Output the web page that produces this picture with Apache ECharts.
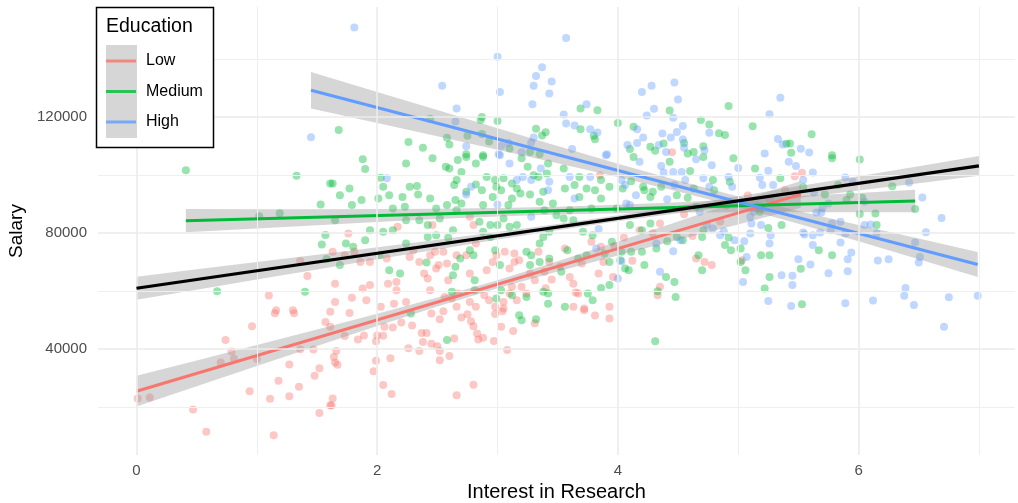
<!DOCTYPE html>
<html>
<head>
<meta charset="utf-8">
<title>Salary vs Interest in Research</title>
<script src="https://cdn.jsdelivr.net/npm/echarts@6/dist/echarts.min.js"></script>
<style>
  html, body { margin: 0; padding: 0; background: #ffffff; }
  #chart { width: 1018px; height: 503px; }
</style>
</head>
<body>
<div id="chart"></div>
<script>
// ---- observations: [interest in research, salary] ----
var lowPoints = [
  [0.01,23000],[0.11,23300],[0.47,19200],[0.58,11500],[0.94,25500],[0.70,35400],[0.74,43200],[0.79,39200],
  [0.81,36700],[0.96,47900],[1.00,36600],[1.15,52400],[1.31,52400],[1.11,22900],[1.14,10300],[1.18,29100],
  [1.27,34700],[1.27,23800],[1.35,27000],[1.36,40000],[1.47,39900],[1.52,33400],[1.48,30800],[1.52,18000],
  [1.61,20700],[1.57,49400],[1.61,47700],[1.61,52900],[1.66,39400],[1.64,37300],[1.65,35400],[1.67,34600],
  [1.63,23000],[1.62,20600],[1.77,52500],[1.73,44500],[1.84,43300],[1.89,44700],[1.99,42700],[2.00,44700],
  [2.05,44600],[2.06,47700],[2.13,47500],[2.20,49200],[2.29,48200],[1.99,36000],[1.97,32400],[2.11,36900],
  [2.05,27600],[2.12,24500],[2.26,40300],[2.35,39400],[2.37,45600],[2.41,45600],[2.38,42500],[2.45,41900],
  [2.50,41000],[2.52,39400],[2.52,36200],[2.60,37600],[2.64,43700],[2.45,52300],[2.52,50300],[2.55,53100],
  [2.66,24100],[2.80,27700],[2.70,50900],[2.75,52000],[2.78,49600],[2.80,47900],[2.83,45400],[2.84,43300],
  [2.88,43900],[2.97,42800],[2.98,52100],[3.04,53100],[3.03,47700],[3.13,46300],[3.08,39700],[3.31,48900],
  [3.72,53400],[3.81,51600],[3.93,50600],
  [1.36,70400],[1.42,65200],[1.10,58500],[1.16,53400],[1.30,53400],
  [2.77,85700],[2.80,82800],[2.46,82800],[2.17,82200],[1.76,79900],[1.81,73600],[1.73,72400],[1.63,73600],
  [1.86,70100],[1.94,70100],[2.08,71300],[2.30,74100],[2.27,71800],[2.35,70100],[2.44,72400],[2.48,73600],
  [2.55,73600],[2.51,69000],[2.58,69500],[2.66,72400],[2.74,72400],[2.82,76400],[2.99,72400],[2.96,70100],
  [3.06,73600],[3.14,73000],[3.14,70100],[3.10,67800],[3.18,70700],[3.34,73600],[3.39,66700],[2.39,66100],
  [2.42,64400],[2.49,67800],[2.59,63800],[2.77,66100],[2.91,67200],[2.16,63200],[2.09,62600],[2.16,60300],
  [1.88,60900],[1.65,62600],[1.79,57700],[1.91,56900],[2.03,54600],[2.14,55700],[2.24,56300],[2.44,60300],
  [2.56,58000],[2.67,59200],[2.77,56300],[2.89,58600],[2.93,56900],[3.05,56300],[3.12,61500],[3.10,59200],
  [3.20,61500],[3.24,59200],[3.16,56900],[3.05,54000],[2.98,54600],[2.82,54600],[2.66,54600],[2.62,57500],
  [3.31,63800],[3.27,66100],[3.43,70100],[1.94,62100],[1.65,56300],
  [3.85,100000],[4.35,83300],[3.97,75600],[3.86,75300],[3.56,74700],[3.88,70100],[4.35,61500],[4.33,58600],
  [4.65,71300],[4.72,70100],[4.78,69000],[3.96,64900],[3.84,66100],[3.60,64900],[3.63,62600],[3.65,59500],
  [3.67,59200],[3.72,54000],[3.93,54600],[3.63,54600],[5.03,70700],
  [5.53,100800],[5.47,99600],[5.18,88500],[5.26,91400],[5.39,94800],[4.18,81000],[4.29,80000],[4.45,107900],
  [3.45,64000],[3.52,68500],[3.40,61000],[4.05,78500],[4.55,86500],[4.90,89500],[4.62,79000],[4.12,70500],
  [4.85,84000],[5.08,93000],[3.70,69500],[3.78,77000]
];

var mediumPoints = [
  [2.44,119500],[2.87,120100],[2.86,119000],[3.00,118700],[1.68,115600],[3.32,116000],[3.40,114800],[3.37,113700],
  [2.75,113600],[2.87,114200],[2.58,112900],[2.60,110600],[2.26,111400],[2.38,109500],[2.93,111600],[3.10,109200],
  [3.27,108000],[3.35,107200],[2.74,107200],[2.88,106900],
  [4.92,123900],[4.43,122300],[3.69,123000],[3.83,122400],[3.69,115800],[3.80,113600],[3.81,112400],[4.00,118000],
  [4.13,116700],[4.69,119000],[4.76,117500],[4.84,114500],[4.89,113900],[5.12,116900],[5.40,110800],[4.10,109000],
  [4.27,109800],[4.38,110900],[4.55,111100],[4.71,110000],[4.63,108000],[4.58,107500],[4.31,108400],
  [5.61,114100],[5.44,107700],[5.43,110900],[5.78,106900],
  [0.41,101700],[1.33,99800],[1.53,89900],[1.02,85800],[1.19,86900],[1.57,79400],[1.54,76100],[1.58,71100],
  [0.67,60000],[1.40,59800],[1.61,97100],
  [2.28,52300],[2.58,43200],[3.18,51700],[3.20,50000],[3.32,50300],[4.31,42700],
  [5.53,55500],[5.52,67700],[6.47,88300],[6.28,96200],[6.01,105400],[5.78,105800],[5.54,95800],[5.72,93300],
  [5.83,96600],[5.93,93300],[5.90,91400],[6.03,92200],[6.01,86600],[6.14,86800],[6.15,82800],[5.67,74100],
  [5.78,72400],
  [4.13,106300],[4.43,104600],[4.71,106300],[4.96,105800],[5.14,102300],[5.35,98900],[4.60,101400],[4.79,98300],
  [4.93,97700],[4.80,94800],[4.63,95400],[4.36,96000],[4.29,94300],[4.27,92500],[4.49,93100],[4.58,92200],
  [4.65,89100],[4.71,81000],[4.70,78700],[4.92,78500],[4.89,75900],[4.94,74100],[5.02,74700],[5.02,70100],
  [5.25,81800],[5.36,82800],[5.19,72400],[5.26,72400],[5.26,64900],[5.22,60900],[5.18,87400],[5.15,89100],
  [3.55,102300],[3.68,99400],[3.64,96600],[3.56,95400],[3.86,98300],[3.93,96000],[3.81,94800],[3.74,95400],
  [4.04,95400],[4.11,97900],[4.21,96000],[4.22,94800],[3.68,92500],[3.86,92000],[3.99,88500],[3.78,88500],
  [3.60,87900],[3.55,85100],[3.63,84500],[3.71,80500],[3.79,79300],[4.10,82800],[4.20,81000],[4.27,83300],
  [4.49,78700],[4.41,77200],[4.32,74700],[4.20,73600],[4.11,73600],[4.03,73600],[3.95,77000],[3.89,73000],
  [3.74,72400],[3.67,71300],[3.58,74100],[3.93,70100],[4.02,70700],[4.06,67800],[4.09,67200],[4.22,69000],
  [4.40,64900],[4.54,77600],[4.47,63200],[4.33,60000],[4.48,58000],[4.70,67200],[4.67,72400],[3.53,66700],
  [3.86,61100],[3.93,62100],[3.75,59200],[3.79,56900],[3.56,54600],[5.06,67200],
  [1.88,105500],[1.90,102100],[2.24,104000],[2.46,105800],[2.67,105200],[2.74,106300],[2.82,104000],[2.88,106300],
  [3.20,105800],[3.25,102900],[3.42,104000],[1.63,97100],[2.03,99100],[2.05,96000],[1.69,93100],[1.87,91400],
  [2.01,92000],[2.10,93100],[2.21,92500],[2.27,96000],[2.33,96300],[2.34,93300],[2.23,89100],[2.13,88500],
  [1.79,89700],[2.44,92000],[2.49,88500],[2.58,89700],[2.57,102900],[2.60,102300],[2.70,101100],[2.66,98300],
  [2.64,96600],[2.82,96800],[2.87,94800],[2.74,94300],[2.65,91400],[2.70,90200],[2.66,87900],[2.91,99400],
  [2.98,98300],[3.05,98900],[2.99,96000],[3.03,94800],[2.96,92500],[2.88,89700],[3.09,89700],[3.12,92000],
  [3.16,95400],[3.12,97100],[3.30,100000],[3.34,99400],[3.41,100600],[3.19,93700],[3.27,93300],[3.38,94300],
  [3.35,90800],[3.39,87900],[3.46,90200],[3.49,86200],[3.05,85100],[3.00,82800],[3.10,82200],[3.16,82800],
  [2.94,82800],[2.85,83900],[2.88,80500],[2.94,78700],[2.63,81000],[2.59,78400],[2.52,85100],[2.42,82800],
  [2.42,78700],[2.49,79300],[2.35,84500],[2.24,84500],[2.13,81000],[2.05,80500],[1.94,81000],[1.90,77600],
  [1.74,76400],[1.80,75300],[1.65,84500],[1.69,69000],[2.02,72400],[2.10,67200],[2.24,76400],[2.41,69900],
  [2.65,68400],[2.69,71300],[2.77,74100],[2.80,72400],[2.98,74100],[3.02,69000],[3.24,73600],[3.28,72400],
  [3.35,76400],[3.38,78700],[3.43,80500],[3.27,69000],[3.35,70100],[3.43,71300],[2.19,66100],[2.63,65500],
  [2.81,63800],[2.62,59800],[2.99,57500],[3.03,60300],[3.12,58600],[2.81,60300],[3.38,59800],[3.42,59200],
  [3.24,58000],[3.42,55700],[1.77,95400]
];

var highPoints = [
  [1.81,150900],[3.00,140800],[3.37,137200],[3.32,134200],[3.45,132300],[3.30,130800],[3.43,128200],[3.02,128700],
  [2.54,130800],[3.29,124500],[2.66,123000],[2.65,118500],[3.30,113000],[2.74,110000],[3.03,110100],[3.09,111100],
  [3.28,111300],[3.20,107900],[3.01,107200],[1.45,113100],
  [3.57,147300],[4.47,132000],[4.28,130800],[4.20,128700],[4.50,126100],[5.35,126700],[5.26,121000],[4.30,122900],
  [4.24,120600],[4.46,119800],[3.74,124500],[3.55,120900],[3.57,117800],[3.64,117100],[3.77,115800],[3.83,114700],
  [4.16,115800],[4.54,117000],[4.49,114900],[4.76,114600],[5.33,112500],[5.37,110600],[4.37,114400],[4.44,113000],
  [4.21,113000],[4.16,111100],[4.08,110400],[4.34,110400],[4.54,112300],[4.55,109500],[4.72,108600],[4.40,108000],
  [3.62,109000],[3.91,107200],[5.22,107500],[5.52,109100],[5.59,107800],[6.71,47700],
  [6.99,58400],[6.75,57900],[6.46,55200],[6.38,58400],[6.39,61100],[6.12,56800],[5.89,55800],[5.44,54900],
  [5.45,62100],[5.45,65300],[5.60,69200],[5.75,66200],[5.91,66900],[5.91,71000],[5.94,73300],[6.16,70600],
  [6.25,71000],[6.50,69900],[6.51,71800],[6.47,76800],[6.56,80300],[6.69,85200],[6.53,92300],[6.42,97500],
  [5.62,100900],[5.48,103200],[5.54,98300],[5.63,94000],[5.89,99200],[5.95,97700],[6.05,90800],[5.75,90200],
  [5.70,88700],[5.65,87100],[5.69,87100],[6.05,82800],[6.10,83000],[6.15,79900],[5.78,83400],[5.85,83900],
  [5.77,81000],[5.89,79900],[5.68,80200],[5.54,80200],[5.55,79500],[5.62,79300],[5.85,76800],[5.62,75900],
  [5.50,71000],
  [3.90,106900],[4.18,104600],[4.36,103200],[4.65,105500],[4.78,103400],[5.00,102500],[5.25,101500],[5.18,99100],
  [5.20,96600],[5.29,96600],[5.42,104600],[4.38,100900],[4.46,101100],[4.53,101100],[4.56,98300],[4.71,98900],
  [4.92,99400],[4.95,96000],[4.76,96000],[4.47,96600],[4.41,91700],[4.68,87400],[4.74,82800],[4.79,81600],
  [4.85,79300],[4.88,80700],[4.97,77600],[5.05,77200],[5.07,71800],[5.10,79900],[5.11,83300],[5.19,82800],
  [5.26,76400],[5.27,79300],[5.36,65500],[5.25,56600],[5.04,63200],[5.10,85700],[5.13,87400],[3.60,99400],
  [3.77,99400],[4.03,98300],[4.06,96600],[4.15,93100],[3.64,92000],[4.07,90200],[4.10,89700],[3.84,81400],
  [4.52,77600],[4.32,76400],[3.82,74700],[4.03,70300],[4.35,66700],[4.46,73800],[4.00,64400],
  [3.02,106900],[3.10,104000],[3.36,102300],[2.08,98900],[2.78,96000],[2.74,93300],[3.00,89900],[3.16,98300],
  [3.21,99400],[3.28,98300],[3.43,97700],[3.42,94800],[3.28,85700]
];

// ---- fitted lines (end points) ----
var lowFit     = [[0, 25500], [5.52, 93400]];
var mediumFit  = [[0.41, 84300], [6.47, 91100]];
var highFit    = [[1.45, 129300], [6.99, 69200]];
var overallFit = [[0, 61000], [7.0, 103200]];

// ---- confidence bands: [x, lower, upper] ----
var lowBand = [
  [0,20200,30800],[0.5,27200,36100],[1,34200,41400],[1.5,41100,46800],[2,48000,52200],[2.5,54700,57800],
  [3,61000,63800],[3.5,66800,70300],[4,72300,77100],[4.5,77700,84000],[5,83000,91000],[5.52,88800,98000]
];
var mediumBand = [
  [0.41,80300,88300],[1,81640,88280],[1.5,82750,88290],[2,83830,88330],[2.5,84860,88440],[3,85770,88650],
  [3.5,86470,89070],[4,86890,89770],[4.5,87100,90680],[5,87200,91700],[5.5,87240,92780],[6,87250,93890],
  [6.47,87240,94960]
];
var highBand = [
  [1.45,123000,135600],[2,117980,128700],[2.5,113410,122450],[3,108800,116220],[3.5,104140,110040],
  [4,99360,103980],[4.5,94380,98140],[5,89000,92680],[5.5,83220,87620],[6,77190,82810],[6.5,71040,78140],
  [6.99,64860,73540]
];
var overallBand = [
  [0,57000,65000],[0.5,60500,67520],[1,64010,70050],[1.5,67490,72590],[2,70970,75150],[2.5,74410,77730],
  [3,77800,80380],[3.5,81050,83150],[4,84100,86140],[4.5,86900,89360],[5,89570,92730],[5.5,92160,96160],
  [6,94720,99640],[6.5,97260,103120],[7,99800,106600]
];

// ---- axes ----
var xTickLabels = [0, 2, 4, 6];
var yTickLabels = [40000, 80000, 120000];
var xMajorGrid = [0, 2, 4, 6];
var xMinorGrid = [1, 3, 5, 7];
var yMajorGrid = [40000, 80000, 120000];
var yMinorGrid = [20000, 60000, 100000, 140000];

var groups = ['Low', 'Medium', 'High'];
var groupColors = ['#F8766D', '#00BA38', '#619CFF'];
var pointColors = ['rgba(248,118,109,0.5)', 'rgba(0,186,56,0.5)', 'rgba(97,156,255,0.5)'];
var FONT = '"Liberation Sans", Arial, Helvetica, sans-serif';

function gridLines(values, dim, width, color) {
  return values.map(function (v) {
    var d = {}; d[dim] = v;
    d.lineStyle = { color: color, width: width, type: 'solid' };
    return d;
  });
}

function bandSeries(band) {
  return {
    type: 'custom',
    silent: true,
    z: 3,
    data: [[band[0][0], band[0][1]]],
    renderItem: function (params, api) {
      var pts = [];
      band.forEach(function (p) { pts.push(api.coord([p[0], p[2]])); });
      band.slice().reverse().forEach(function (p) { pts.push(api.coord([p[0], p[1]])); });
      return {
        type: 'polygon',
        shape: { points: pts },
        style: { fill: 'rgba(153,153,153,0.4)', stroke: null }
      };
    }
  };
}

function fitSeries(name, data, color, width, z) {
  return {
    name: name,
    type: 'line',
    data: data,
    symbol: 'none',
    silent: true,
    z: z,
    lineStyle: { color: color, width: width, cap: 'butt' },
    itemStyle: { color: color }
  };
}

var series = [];

// panel grid lines
series.push({
  type: 'line',
  data: [],
  silent: true,
  z: 0,
  markLine: {
    silent: true,
    symbol: 'none',
    label: { show: false },
    emphasis: { disabled: true },
    animation: false,
    data: []
      .concat(gridLines(xMinorGrid, 'xAxis', 1, '#EFEFEF'))
      .concat(gridLines(yMinorGrid, 'yAxis', 1, '#EFEFEF'))
      .concat(gridLines(xMajorGrid, 'xAxis', 1.6, '#EBEBEB'))
      .concat(gridLines(yMajorGrid, 'yAxis', 1.6, '#EBEBEB'))
  }
});

// scatter points
[lowPoints, mediumPoints, highPoints].forEach(function (pts, i) {
  series.push({
    name: groups[i],
    type: 'scatter',
    data: pts,
    symbol: 'circle',
    symbolSize: 8,
    silent: true,
    z: 2,
    itemStyle: { color: pointColors[i], borderWidth: 0 }
  });
});

// confidence bands
series.push(bandSeries(lowBand));
series.push(bandSeries(mediumBand));
series.push(bandSeries(highBand));
series.push(bandSeries(overallBand));

// fitted lines
series.push(fitSeries('Low', lowFit, groupColors[0], 3, 4));
series.push(fitSeries('Medium', mediumFit, groupColors[1], 3, 4));
series.push(fitSeries('High', highFit, groupColors[2], 3, 4));
series.push(fitSeries('Overall', overallFit, '#000000', 3.2, 5));

var keyIcon = 'path://M0,12.5 L30,12.5 L30,15.5 L0,15.5 Z';

var option = {
  animation: false,
  backgroundColor: '#ffffff',
  textStyle: { fontFamily: FONT },
  grid: { left: 98, right: 3, top: 7, bottom: 48, containLabel: false, outerBoundsMode: 'none' },
  xAxis: {
    type: 'value',
    min: -0.32,
    max: 7.3,
    axisLine: { show: false },
    axisTick: { show: false },
    splitLine: { show: false },
    axisLabel: {
      customValues: xTickLabels,
      color: '#4D4D4D',
      fontSize: 15,
      fontFamily: FONT,
      margin: 8
    },
    name: 'Interest in Research',
    nameLocation: 'middle',
    nameGap: 24,
    nameTextStyle: { color: '#000000', fontSize: 20, fontFamily: FONT }
  },
  yAxis: {
    type: 'value',
    min: 3500,
    max: 158000,
    axisLine: { show: false },
    axisTick: { show: false },
    splitLine: { show: false },
    axisLabel: {
      customValues: yTickLabels,
      color: '#4D4D4D',
      fontSize: 15,
      fontFamily: FONT,
      margin: 11,
      formatter: function (v) { return String(v); }
    },
    name: 'Salary',
    nameLocation: 'middle',
    nameRotate: 90,
    nameGap: 62,
    nameTextStyle: { color: '#000000', fontSize: 19, fontFamily: FONT }
  },
  legend: {
    show: true,
    orient: 'vertical',
    left: 101,
    top: 40.75,
    padding: 5,
    z: 10,
    itemWidth: 30,
    itemHeight: 28,
    itemGap: 0,
    selectedMode: false,
    symbolKeepAspect: true,
    textStyle: { color: '#000000', fontSize: 16, lineHeight: 30.5, fontFamily: FONT, padding: [0, 0, 0, 5] },
    data: groups.map(function (g, i) {
      return { name: g, icon: keyIcon, itemStyle: { color: groupColors[i] } };
    })
  },
  graphic: [
    {
      type: 'rect', z: 8, silent: true,
      shape: { x: 96.5, y: 7.5, width: 117, height: 140 },
      style: { fill: '#ffffff', stroke: '#000000', lineWidth: 1.5 }
    },
    {
      type: 'rect', z: 9, silent: true,
      shape: { x: 106, y: 45, width: 31, height: 93 },
      style: { fill: '#D6D6D6' }
    },
    {
      type: 'text', z: 9, silent: true,
      x: 106, y: 27,
      style: { text: 'Education', fill: '#000000', font: '19.5px ' + FONT, textVerticalAlign: 'middle' }
    }
  ],
  series: series
};

var chart = echarts.init(document.getElementById('chart'), null, { renderer: 'canvas' });
chart.setOption(option);
</script>
</body>
</html>
